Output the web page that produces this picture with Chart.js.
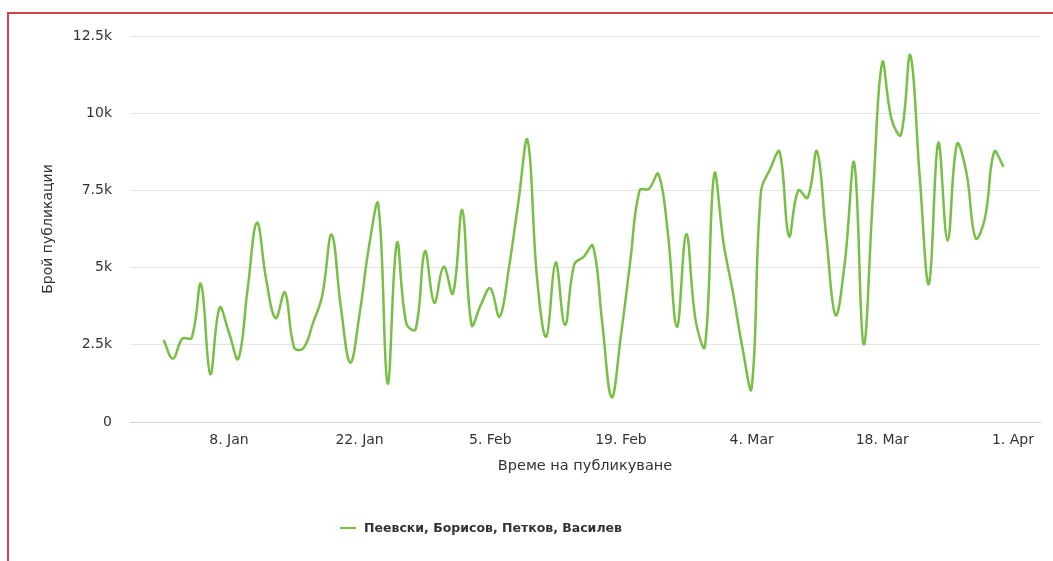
<!DOCTYPE html>
<html>
<head>
<meta charset="utf-8">
<script src="https://cdn.jsdelivr.net/npm/chart.js@4.4.1/dist/chart.umd.min.js"></script>
<style>
  html, body { margin: 0; padding: 0; background: #fff; }
  #wrap { position: relative; width: 1053px; height: 561px; overflow: hidden; }
  #frame {
    position: absolute; left: 7px; top: 12px; right: -10px; bottom: -10px;
    border-top: 2px solid #cf4250; border-left: 2px solid #cf4250;
    pointer-events: none;
  }
</style>
</head>
<body>
<div id="wrap">
  <canvas id="chart" width="1053" height="561"></canvas>
  <div id="frame"></div>
</div>
<script>
// daily counts, 1. Jan 2024 .. 31. Mar 2024 (day 0 = 1. Jan)
const seriesName = "Пеевски, Борисов, Петков, Василев";
const publications = [
  2650, 2050, 2700, 2720, 4470, 1550, 3700, 2900, 2050, 4300,
  6460, 4600, 3360, 4200, 2400, 2400, 3200, 4100, 6070, 3700,
  1920, 3500, 5670, 7050, 1250, 5800, 3200, 3000, 5530, 3860,
  5030, 4160, 6860, 3140, 3800, 4330, 3410, 5000, 7100, 9130,
  4700, 2760, 5160, 3140, 5100, 5350, 5700, 3200, 800, 2800,
  5200, 7500, 7550, 8030, 6200, 3080, 6080, 3300, 2440, 8030,
  5780, 4200, 2440, 1090, 7450, 8200, 8750, 6020, 7500, 7260,
  8770, 6000, 3460, 5200, 8390, 2520, 7300, 11640, 9800, 9300,
  11880, 8000, 4470, 9040, 5870, 9000, 8100, 5950, 6600, 8750,
  8260
];
const tickDays = [7, 21, 35, 49, 63, 77, 91];
const tickLabels = ["8. Jan", "22. Jan", "5. Feb", "19. Feb", "4. Mar", "18. Mar", "1. Apr"];
const yTickValues = [0, 2500, 5000, 7500, 10000, 12500];

const lineColor = "#78bf45";
const textColor = "#333333";
const fontFamily = '"DejaVu Sans", sans-serif';

// highcharts-like legend under the axis title
const bottomLegend = {
  id: "bottomLegend",
  afterDraw(chart) {
    const ctx = chart.ctx;
    ctx.save();
    ctx.font = "bold 12.5px " + fontFamily;
    const textW = ctx.measureText(seriesName).width;
    const total = 16 + 8 + textW;
    const x0 = 481 - total / 2;
    const y = 528;
    ctx.strokeStyle = lineColor;
    ctx.lineWidth = 2;
    ctx.beginPath();
    ctx.moveTo(x0, y);
    ctx.lineTo(x0 + 16, y);
    ctx.stroke();
    ctx.fillStyle = textColor;
    ctx.textBaseline = "middle";
    ctx.fillText(seriesName, x0 + 24, y + 1);
    ctx.restore();
  }
};

const points = publications.map((v, i) => ({ x: i, y: v }));

new Chart(document.getElementById("chart").getContext("2d"), {
  type: "line",
  data: {
    datasets: [
      {
        label: seriesName,
        data: points,
        borderColor: lineColor,
        borderWidth: 2.5,
        pointRadius: 0,
        fill: false,
        tension: 0.4,
      },
    ],
  },
  options: {
    responsive: false,
    animation: false,
    devicePixelRatio: 1,
    layout: { padding: { left: 0, right: 13, top: 36, bottom: 0 } },
    plugins: {
      legend: { display: false },
      tooltip: { enabled: false },
    },
    scales: {
      x: {
        type: "linear",
        min: -3.6,
        max: 93.9,
        afterBuildTicks: (scale) => {
          scale.ticks = tickDays.map((d) => ({ value: d }));
        },
        afterFit: (scale) => {
          scale.height = 139;
        },
        grid: { display: false, drawTicks: false },
        border: { display: true, color: "#ccd6eb", width: 1 },
        ticks: {
          autoSkip: false,
          maxRotation: 0,
          padding: 10,
          color: textColor,
          font: { family: fontFamily, size: 14 },
          callback: (value, index) => tickLabels[index],
        },
        title: {
          display: true,
          text: "Време на публикуване",
          color: textColor,
          font: { family: fontFamily, size: 14.5 },
          padding: { top: 0, bottom: 86 },
        },
      },
      y: {
        min: 0,
        max: 12500,
        afterBuildTicks: (scale) => {
          scale.ticks = yTickValues.map((v) => ({ value: v }));
        },
        afterFit: (scale) => {
          scale.width = 130;
        },
        grid: { color: "#e6e6e6", drawTicks: false },
        border: { display: false },
        ticks: {
          padding: 18,
          color: textColor,
          font: { family: fontFamily, size: 14 },
          callback: (value) => (value === 0 ? "0" : value / 1000 + "k"),
        },
        title: {
          display: true,
          text: "Брой публикации",
          color: textColor,
          font: { family: fontFamily, size: 14 },
          padding: { top: 40, bottom: 0 },
        },
      },
    },
  },
  plugins: [bottomLegend],
});
</script>
</body>
</html>
